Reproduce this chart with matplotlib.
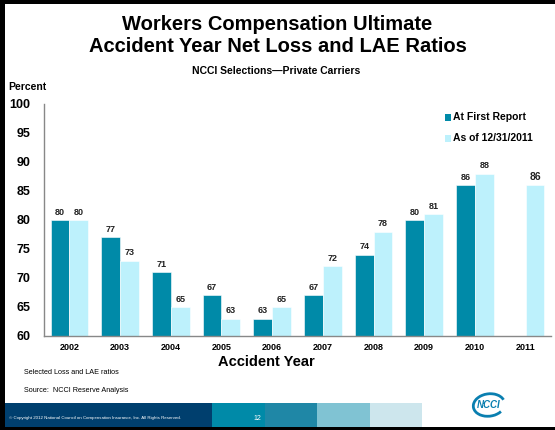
import numpy as np
import matplotlib.pyplot as plt
from matplotlib.patches import Rectangle, Arc

plt.rcParams['font.family'] = ['Liberation Sans', 'DejaVu Sans']

# Accident years and the two loss ratio series
years = ['2002', '2003', '2004', '2005', '2006', '2007', '2008', '2009', '2010', '2011']
first_report = [80, 77, 71, 67, 63, 67, 74, 80, 86, None]
as_of_2011 = [80, 73, 65, 63, 65, 72, 78, 81, 88, 86]

dark = '#008aa8'
light = '#bdf1fc'

W, H = 555, 430
fig = plt.figure(figsize=(W / 100, H / 100), dpi=100, facecolor='white')

def px(x, y):
    return x / W, 1 - y / H

def box(x0, y0, x1, y1, c):
    # filled rectangle given in pixel corners (top-left, bottom-right)
    fig.patches.append(Rectangle(px(x0, y1), (x1 - x0) / W, (y1 - y0) / H, facecolor=c,
                                 linewidth=0, transform=fig.transFigure, figure=fig))

# titles
fig.text(0.5, 1 - 25 / H, 'Workers Compensation Ultimate', ha='center', va='center',
         fontsize=14.5, fontweight='bold')
fig.text(0.5, 1 - 47 / H, 'Accident Year Net Loss and LAE Ratios', ha='center', va='center',
         fontsize=14.5, fontweight='bold')
fig.text(276 / W, 1 - 71 / H, 'NCCI Selections\u2014Private Carriers', ha='center', va='center',
         fontsize=7.5, fontweight='bold')
fig.text(8 / W, 1 - 87 / H, 'Percent', ha='left', va='center', fontsize=7.5, fontweight='bold')

ax = fig.add_axes([44 / W, (H - 336) / H, (551 - 44) / W, (336 - 104) / H])
x = np.arange(len(years))
w = 0.37
for i in x:
    fr = first_report[i]
    lt = as_of_2011[i]
    if fr is not None:
        ax.bar(i - w / 2, fr - 60, w, bottom=60, color=dark, edgecolor='white', linewidth=0.4)
        ax.text(i - w / 2, fr + 0.6, str(fr), ha='center', va='bottom', fontsize=6.5,
                fontweight='bold', color='#222222')
    ax.bar(i + w / 2, lt - 60, w, bottom=60, color=light, edgecolor='white', linewidth=0.4)
    ax.text(i + w / 2, lt + 0.6, str(lt), ha='center', va='bottom',
            fontsize=6.5 if fr is not None else 7.5, fontweight='bold', color='#222222')

ax.set_xlim(-0.5, len(years) - 0.5)
ax.set_ylim(60, 100)
ax.set_yticks(range(60, 101, 5))
ax.set_yticklabels([str(v) for v in range(60, 101, 5)], fontsize=9, fontweight='bold')
ax.set_xticks(x)
ax.set_xticklabels(years, fontsize=6.5, fontweight='bold')
ax.tick_params(axis='x', length=0, pad=5)
ax.tick_params(axis='y', length=0, pad=10)
for s in ['top', 'right']:
    ax.spines[s].set_visible(False)
for s in ['left', 'bottom']:
    ax.spines[s].set_color('#888888')
    ax.spines[s].set_linewidth(1.0)

# legend
for yy, c, lab in [(117, dark, 'At First Report'), (138, light, 'As of 12/31/2011')]:
    box(445, yy - 3.5, 451, yy + 3.5, c)
    fig.text(453 / W, 1 - yy / H, lab, ha='left', va='center', fontsize=7.5, fontweight='bold')

fig.text(266 / W, 1 - 362 / H, 'Accident Year', ha='center', va='center', fontsize=10.5,
         fontweight='bold')
fig.text(24 / W, 1 - 372 / H, 'Selected Loss and LAE ratios', ha='left', va='center', fontsize=5.2)
fig.text(24 / W, 1 - 390 / H, 'Source:  NCCI Reserve Analysis', ha='left', va='center', fontsize=5.2)

# footer band
bands = [(5, 212, '#003f6e'), (212, 265, '#008aa8'), (265, 317, '#1f87a6'),
         (317, 370, '#80c3d3'), (370, 422, '#cde6ed')]
for x0, x1, c in bands:
    box(x0, 403, x1, 427, c)
fig.text(9 / W, 1 - 418 / H,
         '\u00a9 Copyright 2012 National Council on Compensation Insurance, Inc. All Rights Reserved.',
         ha='left', va='center', fontsize=3.2, color='white')
fig.text(257 / W, 1 - 418 / H, '12', ha='center', va='center', fontsize=5, color='white')

# logo
fig.patches.append(Arc(px(489, 405), 32 / W, 22 / H, angle=25, theta1=0, theta2=300,
                       color='#0a7fb0', linewidth=2, transform=fig.transFigure, figure=fig))
fig.text(489 / W, 1 - 405 / H, 'NCCI', ha='center', va='center', fontsize=7, color='#0a7fb0',
         fontweight='bold', style='italic')

# black frame on the left, top and bottom
box(0, 0, 5, H, 'black')
box(0, 0, W, 4, 'black')
box(0, 427, W, H, 'black')

fig.savefig('out.png', dpi=100, facecolor='white')
